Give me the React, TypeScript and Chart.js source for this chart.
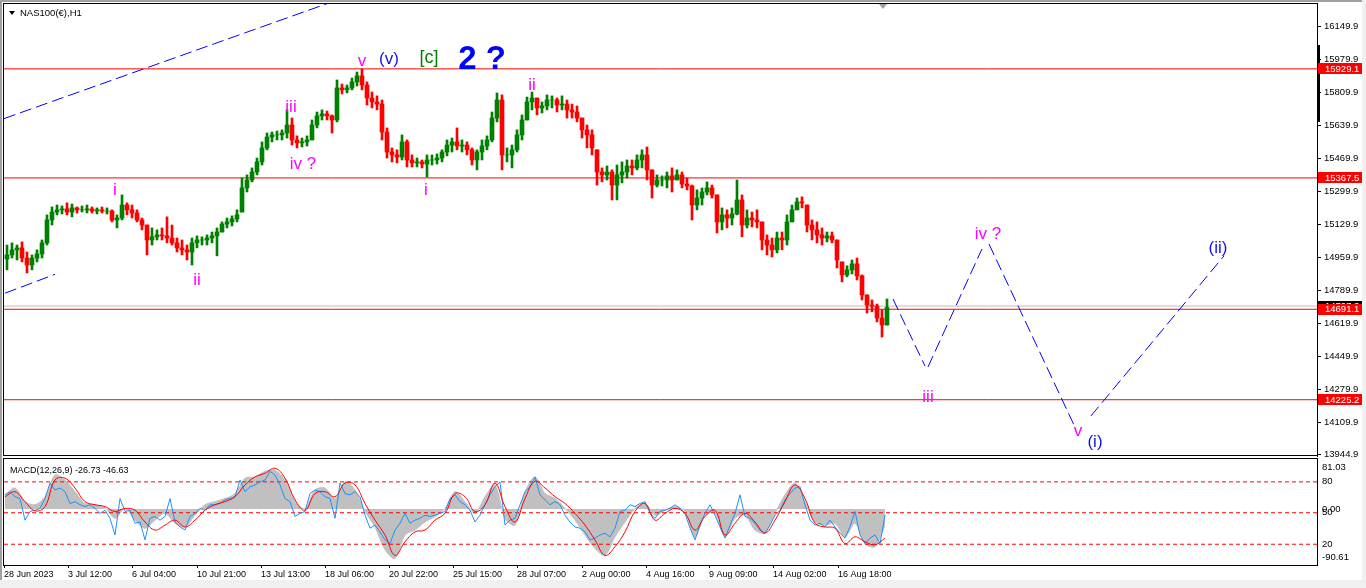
import React, { useEffect, useRef } from 'react';
import { Chart, registerables } from 'chart.js';

Chart.register(...registerables);

const AXIS_FONT = '"Liberation Sans", Arial, sans-serif';
const LABEL_FONT = '"Liberation Sans", Arial, sans-serif';
Chart.defaults.font.family = AXIS_FONT;

// ---------- time axis (1 unit = one H1 bar) ----------
const X_MIN = 0;
const X_MAX = 1313;
const timeTickPositions = [0, 64, 128, 193, 257, 321, 385, 449, 513, 578, 642, 705, 769, 834];
const timeTickLabels = [
  '28 Jun 2023', '3 Jul 12:00', '6 Jul 04:00', '10 Jul 21:00', '13 Jul 13:00', '18 Jul 06:00',
  '20 Jul 22:00', '25 Jul 15:00', '28 Jul 07:00', '2 Aug 00:00', '4 Aug 16:00', '9 Aug 09:00',
  '14 Aug 02:00', '16 Aug 18:00',
];

// ---------- price axis ----------
const PRICE_MIN = 13935.4;
const PRICE_MAX = 16263.2;
const priceTicks = [16149.9, 15979.9, 15809.9, 15639.9, 15469.9, 15299.9, 15129.9, 14959.9, 14789.9, 14619.9, 14449.9, 14279.9, 14109.9, 13944.9];
const levelPrices = [15929.1, 15367.5, 14691.1, 14225.2];
const bidPrice = 14707.3;
const rangeMarkerTop = 16052;
const rangeMarkerBottom = 15656;
const shiftMarkerTime = 879;

// ---------- candles (each summarises 5 H1 bars) ----------
const candleStart = 3;
const candleStep = 5;
const firstOpen = 14950;
const highs = [
  15022, 15033, 15022, 15038, 14986, 14971, 14997, 15048, 15177, 15218,
  15228, 15223, 15239, 15233, 15218, 15223, 15228, 15218, 15213, 15218,
  15213, 15203, 15177, 15280, 15239, 15228, 15203, 15161, 15125, 15110,
  15100, 15110, 15167, 15125, 15058, 15048, 15022, 15058, 15069, 15064,
  15074, 15089, 15110, 15141, 15161, 15172, 15203, 15367, 15383, 15419,
  15470, 15553, 15599, 15604, 15609, 15615, 15718, 15676, 15584, 15573,
  15584, 15666, 15707, 15718, 15712, 15692, 15872, 15851, 15846, 15882,
  15913, 15929, 15862, 15810, 15790, 15769, 15625, 15522, 15512, 15589,
  15563, 15486, 15470, 15460, 15486, 15486, 15491, 15512, 15563, 15573,
  15625, 15563, 15553, 15522, 15512, 15563, 15584, 15707, 15805, 15795,
  15522, 15537, 15615, 15692, 15784, 15810, 15779, 15759, 15795, 15790,
  15779, 15790, 15769, 15748, 15738, 15676, 15640, 15615, 15512, 15419,
  15429, 15409, 15434, 15450, 15460, 15460, 15486, 15512, 15527, 15409,
  15383, 15378, 15398, 15419, 15409, 15398, 15367, 15331, 15306, 15316,
  15347, 15331, 15280, 15213, 15203, 15213, 15357, 15280, 15203, 15192,
  15203, 15141, 15074, 15058, 15089, 15089, 15177, 15228, 15264, 15270,
  15228, 15151, 15141, 15110, 15089, 15089, 15048, 14935, 14915, 14945,
  14955, 14868, 14765, 14739, 14718, 14688, 14744,
];
const lows = [
  14894, 14955, 14945, 14935, 14878, 14894, 14935, 14955, 15022, 15125,
  15177, 15182, 15177, 15167, 15187, 15192, 15187, 15187, 15182, 15187,
  15182, 15141, 15110, 15151, 15177, 15161, 15141, 15100, 14971, 15022,
  15048, 15048, 15033, 15022, 14986, 14971, 14945, 14919, 15007, 15022,
  15022, 15033, 14966, 15089, 15110, 15120, 15141, 15192, 15295, 15347,
  15383, 15434, 15512, 15553, 15563, 15563, 15573, 15537, 15522, 15527,
  15532, 15563, 15625, 15666, 15666, 15599, 15656, 15800, 15805, 15821,
  15841, 15821, 15743, 15728, 15718, 15563, 15470, 15450, 15445, 15460,
  15424, 15424, 15424, 15419, 15372, 15434, 15439, 15450, 15481, 15501,
  15512, 15501, 15486, 15434, 15409, 15460, 15512, 15553, 15656, 15409,
  15450, 15419, 15501, 15563, 15666, 15718, 15692, 15702, 15718, 15728,
  15707, 15718, 15676, 15676, 15656, 15573, 15522, 15486, 15331, 15347,
  15357, 15254, 15254, 15342, 15367, 15383, 15409, 15419, 15357, 15264,
  15321, 15326, 15316, 15295, 15357, 15316, 15306, 15151, 15203, 15228,
  15280, 15264, 15084, 15100, 15110, 15125, 15177, 15064, 15110, 15115,
  15110, 14997, 14971, 14960, 14981, 14997, 15022, 15141, 15203, 15213,
  15089, 15048, 15033, 15022, 15038, 15033, 14904, 14832, 14858, 14873,
  14842, 14739, 14672, 14678, 14626, 14548, 14610,
];
const closes = [
  14971, 14997, 15007, 14955, 14919, 14955, 14976, 15033, 15151, 15192,
  15203, 15208, 15192, 15213, 15203, 15203, 15208, 15197, 15203, 15197,
  15197, 15151, 15161, 15228, 15203, 15187, 15151, 15125, 15048, 15064,
  15074, 15069, 15058, 15033, 15007, 14997, 14986, 15033, 15048, 15048,
  15058, 15069, 15089, 15130, 15141, 15156, 15177, 15316, 15357, 15398,
  15450, 15522, 15578, 15589, 15589, 15599, 15640, 15563, 15548, 15553,
  15563, 15640, 15687, 15697, 15687, 15666, 15831, 15821, 15831, 15862,
  15893, 15846, 15779, 15759, 15748, 15604, 15501, 15486, 15475, 15553,
  15460, 15445, 15450, 15439, 15460, 15460, 15470, 15501, 15537, 15553,
  15532, 15537, 15512, 15460, 15501, 15532, 15563, 15676, 15769, 15486,
  15486, 15512, 15589, 15666, 15759, 15779, 15728, 15738, 15769, 15769,
  15743, 15748, 15718, 15707, 15676, 15615, 15589, 15522, 15398, 15383,
  15398, 15331, 15383, 15398, 15429, 15419, 15460, 15486, 15409, 15331,
  15357, 15357, 15378, 15357, 15383, 15336, 15326, 15228, 15264, 15295,
  15316, 15280, 15141, 15177, 15161, 15182, 15254, 15125, 15161, 15151,
  15141, 15048, 15022, 14997, 15058, 15048, 15141, 15203, 15244, 15239,
  15125, 15100, 15074, 15058, 15069, 15048, 14945, 14868, 14894, 14925,
  14863, 14765, 14713, 14708, 14646, 14610, 14700,
];

// ---------- trend / projection lines: [time, price] pairs ----------
const trendLines = [
  [[0, 15673], [340, 16296]],
  [[1, 14774], [51, 14871]],
  [[889, 14744], [921, 14399]],
  [[924, 14394], [978, 15002]],
  [[985, 15027], [1070, 14095]],
  [[1087, 14142], [1220, 14966]],
];

// ---------- wave labels ----------
const waveLabels = [
  { text: 'i', t: 111, price: 15280, kind: 'minor' },
  { text: 'ii', t: 193, price: 14816, kind: 'minor' },
  { text: 'iii', t: 287, price: 15707, kind: 'minor' },
  { text: 'iv ?', t: 299, price: 15414, kind: 'minor' },
  { text: 'v', t: 358, price: 15944, kind: 'minor' },
  { text: '(v)', t: 385, price: 15954, kind: 'minute' },
  { text: '[c]', t: 425, price: 15960, kind: 'green' },
  { text: '2 ?', t: 478, price: 15929, kind: 'primary' },
  { text: 'i', t: 422, price: 15280, kind: 'minor' },
  { text: 'ii', t: 528, price: 15820, kind: 'minor' },
  { text: 'iii', t: 924, price: 14214, kind: 'minor' },
  { text: 'iv ?', t: 984, price: 15053, kind: 'minor' },
  { text: 'v', t: 1074, price: 14039, kind: 'minor' },
  { text: '(i)', t: 1091, price: 13982, kind: 'minute' },
  { text: '(ii)', t: 1214, price: 14981, kind: 'minute' },
];

// ---------- MACD ----------
const MACD_MIN = -90.61;
const MACD_MAX = 81.03;
const macdStart = 1;
const macdSlowStep = 10;
const macdFastStep = 5;
const macdMain = [
  23, 34, 12, 7, 20, 55, 47, 28, 9, 7,
  2, -15, 1, -18, -31, -18, -7, -23, -29, -10,
  7, 12, 17, 25, 50, 52, 61, 63, 47, 12,
  1, 31, 34, 17, 44, 31, -4, -29, -66, -80,
  -42, -34, -21, -12, 1,
  28, 12, -7, 20, 39, -15, -26, 28, 52, 25,
  17, 1, -18, -42, -64, -75, -45, -21, 1, 9,
  -10, -2, 4, -4, -45, -10, -7, -45, -15, -10,
  -34, -39, -7, 23, 42, 12, -21, -26, -23, -45,
  -23, -56, -61, -27,
];
const macdSignal = [
  20, 28, 12, -3, 4, 47, 50, 34, 12, 7,
  4, -4, 1, -2, -21, -34, -26, -18, -29, -18,
  -2, 7, 12, 20, 39, 52, 58, 66, 50, 15,
  -2, 25, 28, 20, 42, 39, 9, -18, -42, -75,
  -53, -37, -34, -18, -7,
  25, 20, -4, 7, 42, 4, -21, 17, 45, 34,
  20, 9, -7, -26, -50, -75, -61, -37, -4, 9,
  -18, -7, 1, -7, -34, -12, -2, -42, -23, -7,
  -21, -39, -18, 12, 39, 17, -23, -29, -31, -56,
  -45, -53, -58, -47,
];
const macdFast = [
  23, 28, 20, 17, -18, -4, -2, 1, 17, 42,
  31, 34, 28, 9, 12, 7, 4, 7, 1, -7,
  -2, -15, -42, 17, -4, -2, -23, -21, -50, -15,
  -12, -18, -12, 17, -21, -29, -34, -12, -7, 1,
  -2, 7, 7, 9, 15, 17, 20, 47, 28, 36,
  39, 44, 47, 61, 55, 39, 17, 12, -12, -7,
  -4, 25, 31, 28, 20, 17, -15, 42, 25, 23,
  28, 20, -10, -31, -26, -37, -50, -56, -34, -23,
  -7, -23, -18, -15, -10, -12, -10, -7, -4, 17,
  23, 12, 7, -2, -21, -10, 7, 23, 36, 44,
  -26, -18, -15, 7, 28, 36, 52, 23, 15, 7,
  12, 7, -10, -21, -29, -31, -37, -50, -47, -42,
  -39, -45, -31, -4, -2, 7, 4, 9, 12, -7,
  -15, -4, -2, 1, 7, 1, -7, -31, -50, -26,
  -7, 7, -10, -29, -47, -26, -7, 23, -12, -15,
  -23, -34, -39, -26, -10, -2, 15, 25, 34, 36,
  7, -18, -26, -23, -29, -18, -29, -39, -47, -29,
  -4, -42, -56, -47, -42, -56, -10,
];
const macdLevels = [44, -6, -57];
const macdAxisTicks = [68.1, 44, 0, -6, -57, -77.6];
const macdAxisLabels = ['81.03', '80', '0.00', '50', '20', '-90.61'];

// ---------- styles ----------
const AXIS_WIDTH = 49;
const UP = '#008000';
const DOWN = '#ff0000';
const labelStyles: Record<string, { font: string; color: string }> = {
  minor: { font: `17px ${LABEL_FONT}`, color: '#ff00ff' },
  minute: { font: `17px ${LABEL_FONT}`, color: '#1212e6' },
  green: { font: `18px ${LABEL_FONT}`, color: '#008000' },
  primary: { font: `bold 33px ${LABEL_FONT}`, color: '#0000ff' },
};

function series(values: number[], start: number, step: number) {
  return values.map((v, i) => ({ x: start + step * i, y: v }));
}

function buildCandles() {
  const wicks: any[] = [];
  const bodies: any[] = [];
  const colors: string[] = [];
  let prev = firstOpen;
  for (let i = 0; i < closes.length; i++) {
    const t = candleStart + candleStep * i;
    const open = Math.min(highs[i], Math.max(lows[i], prev));
    colors.push(closes[i] >= open ? UP : DOWN);
    wicks.push({ x: t, y: [lows[i], highs[i]] });
    bodies.push({ x: t, y: [open, closes[i]] });
    prev = closes[i];
  }
  return { wicks, bodies, colors };
}

const hLine = (value: number, color: string, dash: number[] = []) => ({
  type: 'line',
  data: [{ x: X_MIN, y: value }, { x: X_MAX, y: value }],
  borderColor: color,
  borderWidth: 1,
  borderDash: dash,
  pointRadius: 0,
  fill: false,
});

const mainDecor = {
  id: 'mainDecor',
  afterDraw(chart: any) {
    const { ctx, chartArea: a, scales } = chart;
    const xs = scales.x;
    const ys = scales.y;
    ctx.save();
    ctx.strokeStyle = '#000';
    ctx.lineWidth = 1;
    ctx.strokeRect(a.left - 0.5, a.top - 0.5, a.right - a.left + 1, a.bottom - a.top);

    // wave labels
    ctx.textAlign = 'center';
    ctx.textBaseline = 'alphabetic';
    for (const w of waveLabels) {
      const st = labelStyles[w.kind];
      ctx.font = st.font;
      ctx.fillStyle = st.color;
      ctx.fillText(w.text, xs.getPixelForValue(w.t), ys.getPixelForValue(w.price));
    }

    // visible range marker on the price scale
    const r1 = ys.getPixelForValue(rangeMarkerTop);
    const r2 = ys.getPixelForValue(rangeMarkerBottom);
    ctx.fillStyle = '#000';
    ctx.fillRect(a.right, r1, 3, r2 - r1);

    // chart shift marker
    const sx = xs.getPixelForValue(shiftMarkerTime);
    ctx.fillStyle = '#a0a0a0';
    ctx.beginPath();
    ctx.moveTo(sx - 4, a.top);
    ctx.lineTo(sx + 4, a.top);
    ctx.lineTo(sx, a.top + 5);
    ctx.closePath();
    ctx.fill();

    // price boxes on the axis
    ctx.font = `9.5px ${AXIS_FONT}`;
    ctx.textAlign = 'left';
    ctx.textBaseline = 'middle';
    const box = (p: number, bg: string) => {
      const y = ys.getPixelForValue(p);
      ctx.fillStyle = bg;
      ctx.fillRect(a.right + 1, Math.round(y - 5.5), 44, 11);
      ctx.fillStyle = '#fff';
      ctx.fillText(p.toFixed(1), a.right + 8, y + 0.5);
    };
    box(bidPrice, '#000');
    levelPrices.forEach((p) => box(p, '#ff0000'));
    ctx.restore();
  },
};

const macdFrame = {
  id: 'macdFrame',
  afterDraw(chart: any) {
    const { ctx, chartArea: a } = chart;
    ctx.save();
    ctx.strokeStyle = '#000';
    ctx.lineWidth = 1;
    ctx.strokeRect(a.left - 0.5, a.top - 0.5, a.right - a.left + 1, a.bottom - a.top + 1);
    ctx.restore();
  },
};

function mainConfig(): any {
  const { wicks, bodies, colors } = buildCandles();
  return {
    type: 'bar',
    data: {
      datasets: [
        ...trendLines.map((seg) => ({
          type: 'line',
          data: seg.map(([x, y]) => ({ x, y })),
          borderColor: '#0000ff',
          borderWidth: 1,
          borderDash: [12, 5],
          pointRadius: 0,
          fill: false,
        })),
        { type: 'bar', data: bodies, backgroundColor: colors, barThickness: 4, grouped: false, borderWidth: 0 },
        { type: 'bar', data: wicks, backgroundColor: colors, barThickness: 2, grouped: false, borderWidth: 0 },
        ...levelPrices.map((p) => hLine(p, '#ff0000')),
        hLine(bidPrice, '#c0c0c0'),
      ],
    },
    options: {
      responsive: false,
      animation: false,
      events: [],
      layout: { padding: { left: 4, top: 4, right: 0, bottom: 2 }, autoPadding: false },
      plugins: { legend: { display: false }, tooltip: { enabled: false } },
      scales: {
        x: { type: 'linear', min: X_MIN, max: X_MAX, display: false, offset: false, bounds: 'data' },
        y: {
          type: 'linear',
          position: 'right',
          min: PRICE_MIN,
          max: PRICE_MAX,
          bounds: 'data',
          beginAtZero: false,
          afterBuildTicks: (s: any) => { s.ticks = priceTicks.map((v) => ({ value: v })); },
          afterFit: (s: any) => { s.width = AXIS_WIDTH; s.paddingTop = 0; s.paddingBottom = 0; },
          ticks: {
            autoSkip: false,
            padding: 3,
            color: '#000',
            font: { family: AXIS_FONT, size: 9.5 },
            callback: (v: any) => Number(v).toFixed(1),
          },
          grid: { drawOnChartArea: false, drawTicks: true, tickLength: 4, color: '#000' },
          border: { display: true, color: '#000' },
        },
      },
    },
    plugins: [mainDecor],
  };
}

function macdConfig(): any {
  return {
    type: 'line',
    data: {
      datasets: [
        { data: series(macdSignal, macdStart, macdSlowStep), borderColor: '#ff0000', borderWidth: 1, pointRadius: 0, tension: 0.4, fill: false },
        { data: series(macdFast, macdStart, macdFastStep), borderColor: '#1e90ff', borderWidth: 1, pointRadius: 0, tension: 0, fill: false },
        ...macdLevels.map((v) => hLine(v, '#ff0000', [4, 3])),
        { data: series(macdMain, macdStart, macdSlowStep), borderColor: '#c0c0c0', backgroundColor: '#c0c0c0', borderWidth: 1, pointRadius: 0, tension: 0.3, fill: 'origin' },
      ],
    },
    options: {
      responsive: false,
      animation: false,
      events: [],
      layout: { padding: { left: 4, top: 1, right: 0, bottom: 0 }, autoPadding: false },
      plugins: { legend: { display: false }, tooltip: { enabled: false } },
      scales: {
        x: {
          type: 'linear',
          min: X_MIN,
          max: X_MAX,
          offset: false,
          bounds: 'data',
          afterBuildTicks: (s: any) => { s.ticks = timeTickPositions.map((v) => ({ value: v })); },
          afterFit: (s: any) => { s.height = 15; s.paddingLeft = 0; s.paddingRight = 0; },
          ticks: {
            autoSkip: false,
            maxRotation: 0,
            minRotation: 0,
            align: 'start',
            padding: 1,
            color: '#000',
            font: { family: AXIS_FONT, size: 9 },
            callback: (_v: any, i: number) => timeTickLabels[i],
          },
          grid: { drawOnChartArea: false, drawTicks: true, tickLength: 3, color: '#000' },
          border: { display: true, color: '#000' },
        },
        y: {
          type: 'linear',
          position: 'right',
          min: MACD_MIN,
          max: MACD_MAX,
          bounds: 'data',
          afterBuildTicks: (s: any) => { s.ticks = macdAxisTicks.map((v) => ({ value: v })); },
          afterFit: (s: any) => { s.width = AXIS_WIDTH; s.paddingTop = 0; s.paddingBottom = 0; },
          ticks: {
            autoSkip: false,
            padding: 5,
            color: '#000',
            font: { family: AXIS_FONT, size: 9.5 },
            callback: (_v: any, i: number) => macdAxisLabels[i],
          },
          grid: { display: false, drawTicks: false, tickLength: 0 },
          border: { display: true, color: '#000' },
        },
      },
    },
    plugins: [macdFrame],
  };
}

export default function App() {
  const mainRef = useRef<HTMLCanvasElement>(null);
  const macdRef = useRef<HTMLCanvasElement>(null);

  useEffect(() => {
    document.body.style.margin = '0';
    const c1 = new Chart(mainRef.current as HTMLCanvasElement, mainConfig());
    const c2 = new Chart(macdRef.current as HTMLCanvasElement, macdConfig());
    return () => {
      c1.destroy();
      c2.destroy();
    };
  }, []);

  const textStyle: React.CSSProperties = {
    position: 'absolute',
    fontFamily: AXIS_FONT,
    color: '#000',
    lineHeight: '12px',
    whiteSpace: 'nowrap',
  };

  return (
    <div style={{ position: 'fixed', left: 0, top: 0, width: 1366, height: 588, background: '#f0f0f0', overflow: 'hidden' }}>
      <div
        style={{
          position: 'absolute', left: 0, top: 0, width: 1362, height: 580, background: '#fff',
          borderLeft: '2px solid #a0a0a0', borderTop: '2px solid #a0a0a0', boxSizing: 'border-box',
        }}
      />
      <canvas ref={mainRef} width={1366} height={458} style={{ position: 'absolute', left: 0, top: 0 }} />
      <canvas ref={macdRef} width={1366} height={122} style={{ position: 'absolute', left: 0, top: 458 }} />
      <div
        style={{
          position: 'absolute', left: 9, top: 11, width: 0, height: 0,
          borderLeft: '3px solid transparent', borderRight: '3px solid transparent', borderTop: '4px solid #000',
        }}
      />
      <div style={{ ...textStyle, left: 20, top: 7, fontSize: 9.5 }}>NAS100(€),H1</div>
      <div style={{ ...textStyle, left: 10, top: 464, fontSize: 9 }}>MACD(12,26,9) -26.73 -46.63</div>
    </div>
  );
}
